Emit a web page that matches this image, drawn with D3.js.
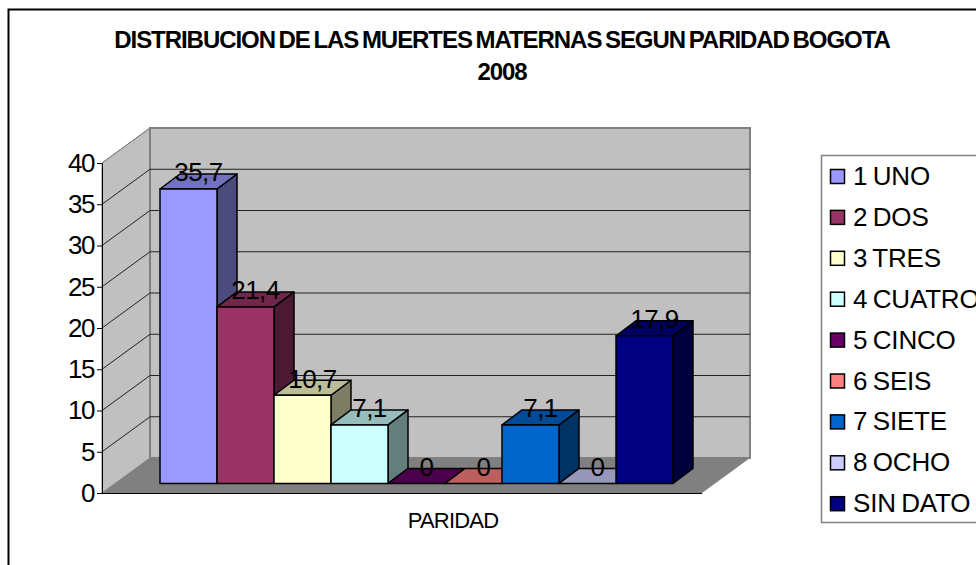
<!DOCTYPE html>
<html>
<head>
<meta charset="utf-8">
<script src="https://d3js.org/d3.v7.min.js"></script>
<style>
 html, body { margin: 0; padding: 0; background: #fff; overflow: hidden; }
 text { font-family: "Liberation Sans", Arial, sans-serif; fill: #000; }
</style>
</head>
<body>
<script>
// data
var categories = ["1 UNO", "2 DOS", "3 TRES", "4 CUATRO", "5 CINCO", "6 SEIS", "7 SIETE", "8 OCHO", "SIN DATO"];
var values = [35.7, 21.4, 10.7, 7.1, 0, 0, 7.1, 0, 17.9];
var colors = ["#9999ff", "#993366", "#ffffcc", "#ccffff", "#660066", "#ff8080", "#0066cc", "#ccccff", "#000080"];
var yTicks = [0, 5, 10, 15, 20, 25, 30, 35, 40];
var titleLines = ["DISTRIBUCION DE LAS MUERTES MATERNAS SEGUN PARIDAD BOGOTA", "2008"];
var xTitle = "PARIDAD";

var width = 976, height = 565;

var svg = d3.select("body").append("svg")
  .attr("width", width)
  .attr("height", height)
  .style("display", "block");

// outer frame runs off the right and bottom of the picture
svg.append("path")
  .attr("d", "M8.5,566V9.5H977")
  .attr("fill", "none")
  .attr("stroke", "#000")
  .attr("stroke-width", 2);

var title = svg.append("g");
title.selectAll("text")
  .data(titleLines)
  .enter().append("text")
  .attr("x", 502)
  .attr("y", function(d, i) { return 48 + i * 32; })
  .attr("text-anchor", "middle")
  .attr("font-size", 24)
  .attr("font-weight", "bold")
  .attr("letter-spacing", -1.05)
  .attr("word-spacing", -2)
  .text(function(d) { return d; });

var y = d3.scaleLinear().domain([0, 40]).range([493, 163]);
var x = d3.scaleBand().domain(categories).range([160, 673]);

// walls and floor
var wallDx = 48, wallDy = -35;
var axisX = 102, floorRight = 702, y0 = y(0), y40 = y(40);

svg.append("polygon")
  .attr("points", [[axisX, y0], [axisX + wallDx, y0 + wallDy], [axisX + wallDx, y40 + wallDy], [axisX, y40]].join(" "))
  .attr("fill", "#c0c0c0")
  .attr("stroke", "#808080");
svg.append("rect")
  .attr("x", axisX + wallDx)
  .attr("y", y40 + wallDy)
  .attr("width", floorRight - axisX)
  .attr("height", y0 - y40)
  .attr("fill", "#c0c0c0")
  .attr("stroke", "#808080")
  .attr("stroke-width", 2);
svg.append("polygon")
  .attr("points", [[axisX, y0], [axisX + wallDx, y0 + wallDy], [floorRight + wallDx, y0 + wallDy], [floorRight, y0]].join(" "))
  .attr("fill", "#808080");

// gridlines on both walls
var grid = svg.append("g");
grid.selectAll("path")
  .data(yTicks.slice(1, -1).concat([40]))
  .enter().append("path")
  .attr("d", function(d) {
    var back = y(d) + wallDy;
    var path = "M" + axisX + "," + y(d) + "L" + (axisX + wallDx) + "," + back;
    if (d < 40) path += "H" + (floorRight + wallDx);
    return path;
  })
  .attr("fill", "none")
  .attr("stroke", function(d) { return d == 40 ? "#808080" : "#222"; })
  .attr("stroke-width", 1);

// value axis
var axis = svg.append("g")
  .attr("transform", "translate(" + axisX + ",0)")
  .call(d3.axisLeft(y).tickValues(yTicks).tickSize(5).tickSizeOuter(0).tickPadding(3));
axis.selectAll("path, line").attr("stroke", "#000");
axis.selectAll("text")
  .attr("font-size", 26)
  .attr("letter-spacing", -1.5)
  .attr("font-family", "'Liberation Sans', Arial, sans-serif");

// front edge of the floor
svg.append("line")
  .attr("x1", axisX).attr("x2", floorRight)
  .attr("y1", y0 + 0.5).attr("y2", y0 + 0.5)
  .attr("stroke", "#000");

// bars sit a bit inside the floor
var barDx = 20, barDy = -15, shiftY = -9.5;

function barBase(d) { return y(0) + shiftY; }
function barTop(d) { return y(d) + shiftY; }

var rows = categories.map(function(c, i) { return { name: c, value: values[i], color: colors[i] }; });

var bars = svg.append("g").selectAll("g")
  .data(rows)
  .enter().append("g")
  .attr("stroke", "#000")
  .attr("stroke-width", 1.5)
  .attr("stroke-linejoin", "round");

bars.append("polygon") // side
  .attr("points", function(d) {
    var r = x(d.name) + x.bandwidth();
    return [[r, barBase()], [r + barDx, barBase() + barDy], [r + barDx, barTop(d.value) + barDy], [r, barTop(d.value)]].join(" ");
  })
  .attr("fill", function(d) { return d3.rgb(d.color).darker(2).formatHex(); });

bars.append("polygon") // top
  .attr("points", function(d) {
    var l = x(d.name), r = l + x.bandwidth(), t = barTop(d.value);
    return [[l, t], [l + barDx, t + barDy], [r + barDx, t + barDy], [r, t]].join(" ");
  })
  .attr("fill", function(d) { return d3.rgb(d.color).darker(0.85).formatHex(); });

bars.filter(function(d) { return d.value > 0; }).append("rect") // front
  .attr("x", function(d) { return x(d.name); })
  .attr("y", function(d) { return barTop(d.value); })
  .attr("width", x.bandwidth())
  .attr("height", function(d) { return barBase() - barTop(d.value); })
  .attr("fill", function(d) { return d.color; });

// value labels sit on the middle of the top face
svg.append("g").selectAll("text")
  .data(rows)
  .enter().append("text")
  .attr("x", function(d) { return x(d.name) + x.bandwidth() / 2 + barDx / 2; })
  .attr("y", function(d) { return barTop(d.value) + barDy / 2; })
  .attr("text-anchor", "middle")
  .attr("font-size", 26)
  .attr("letter-spacing", -0.5)
  .text(function(d) { return String(d.value).replace(".", ","); });

svg.append("text")
  .attr("x", 453)
  .attr("y", 528)
  .attr("text-anchor", "middle")
  .attr("font-size", 22)
  .attr("letter-spacing", -0.8)
  .text(xTitle);

// legend
var legendTop = 176, legendStep = 40.9;
svg.append("path")
  .attr("d", "M977,155.5H821.5V522.5H977")
  .attr("fill", "#fff")
  .attr("stroke", "#808080")
  .attr("stroke-width", 1.5);

var legend = svg.append("g").selectAll("g")
  .data(rows)
  .enter().append("g")
  .attr("transform", function(d, i) { return "translate(0," + (legendTop + i * legendStep) + ")"; });

legend.append("rect")
  .attr("x", 830.5).attr("y", -6.5)
  .attr("width", 14).attr("height", 14)
  .attr("fill", function(d) { return d.color; })
  .attr("stroke", "#000")
  .attr("stroke-width", 1.5);

legend.append("text")
  .attr("x", 853)
  .attr("y", 9)
  .attr("font-size", 26)
  .attr("letter-spacing", -0.2)
  .attr("word-spacing", -1.5)
  .text(function(d) { return d.name; });
</script>
</body>
</html>
